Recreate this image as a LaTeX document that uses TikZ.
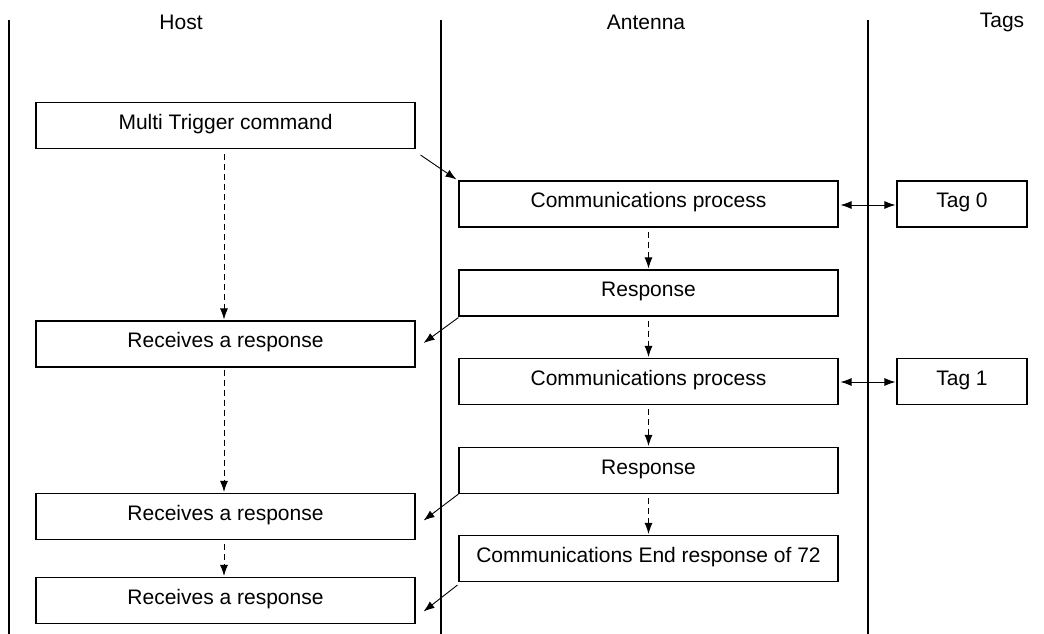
\documentclass[tikz,border=0pt]{standalone}
\usepackage{fontspec}
\setmainfont{Liberation Sans}
\usetikzlibrary{arrows.meta,calc}
\begin{document}
\begin{tikzpicture}[x=1pt,y=-1pt,
  box/.style={draw,line width=1.1pt,minimum height=46pt,inner sep=0pt,
    text height=15pt,text depth=8pt,font=\fontsize{21}{24}\selectfont},
  wide/.style={box,minimum width=379pt},
  tagbox/.style={box,minimum width=130pt},
  head/.style={font=\fontsize{21}{24}\selectfont,inner sep=0pt},
  lane/.style={line width=1.1pt},
  tip/.style={-{Latex[length=11pt,width=8pt]}},
  msg/.style={tip,line width=0.9pt},
  flow/.style={tip,line width=0.9pt,dash pattern=on 6pt off 4pt},
  both/.style={{Latex[length=11pt,width=8pt]}-{Latex[length=11pt,width=8pt]},line width=0.9pt}]
\useasboundingbox (0,0) rectangle (1044,634);
% lanes
\coordinate (l1t) at (9,20); \coordinate (l1b) at (9,634);
\coordinate (l2t) at (441,20); \coordinate (l2b) at (441,634);
\coordinate (l3t) at (868,20); \coordinate (l3b) at (868,634);
\draw[lane] (l1t) -- (l1b);
\draw[lane] (l2t) -- (l2b);
\draw[lane] (l3t) -- (l3b);
% headers
\node[head] (hh) at (181,22) {Host};
\node[head] (ha) at (646,22) {Antenna};
\node[head] (ht) at (1002,22) {Tags};
% host boxes
\node[wide] (m)  at (225.5,125.5) {Multi Trigger command};
\node[wide] (r1) at (225.5,344) {Receives a response};
\node[wide] (r2) at (225.5,516.5) {Receives a response};
\node[wide] (r3) at (225.5,600.5) {Receives a response};
% antenna boxes
\node[wide] (c1) at (648.5,204) {Communications process};
\node[wide] (p1) at (648.5,293) {Response};
\node[wide] (c2) at (648.5,381.5) {Communications process};
\node[wide] (p2) at (648.5,470.5) {Response};
\node[wide] (ce) at (648.5,558.5) {Communications End response of 72};
% tags
\node[tagbox] (t0) at (962,204) {Tag 0};
\node[tagbox] (t1) at (962,381.5) {Tag 1};
% host flow
\draw[flow] ($(m.south)+(-1.5,5)$) -- ($(r1.north)+(-1.5,-1)$);
\draw[flow] ($(r1.south)+(-1.5,2)$) -- ($(r2.north)+(-1.5,-1)$);
\draw[flow] ($(r2.south)+(-1.5,4)$) -- ($(r3.north)+(-1.5,-1)$);
% antenna flow
\draw[flow] ($(c1.south)+(0,4)$) -- ($(p1.north)+(0,-1)$);
\draw[flow] ($(p1.south)+(0,4)$) -- ($(c2.north)+(0,-1)$);
\draw[flow] ($(c2.south)+(0,4)$) -- ($(p2.north)+(0,-1)$);
\draw[flow] ($(p2.south)+(0,4)$) -- ($(ce.north)+(0,-1)$);
% messages
\draw[msg] ($(m.south east)+(5,6)$) -- ($(c1.north west)+(-2,-1)$);
\draw[msg] ($(p1.south west)+(0,1)$) -- ($(r1.east)+(8,-1)$);
\draw[msg] ($(p2.south west)+(0,0)$) -- ($(r2.east)+(8,4)$);
\draw[msg] ($(ce.south west)+(-1,3)$) -- ($(r3.east)+(8,11)$);
% tag links
\draw[both] ($(c1.east)+(2,1)$) -- ($(t0.west)+(-1,1)$);
\draw[both] ($(c2.east)+(2,0.5)$) -- ($(t1.west)+(-1,0.5)$);
\end{tikzpicture}
\end{document}
